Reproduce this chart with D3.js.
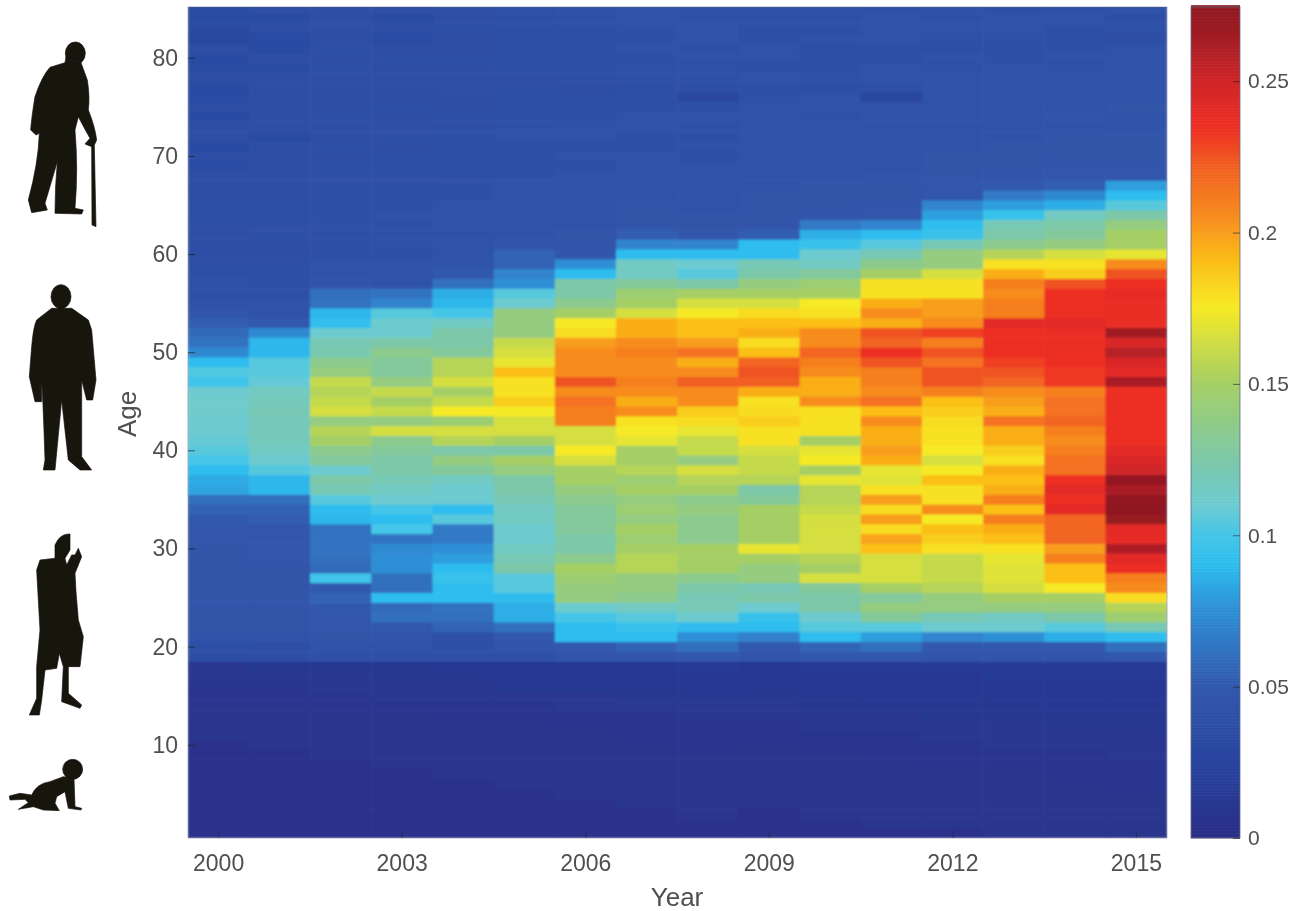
<!DOCTYPE html>
<html><head><meta charset="utf-8">
<script src="https://cdn.jsdelivr.net/npm/d3@7"></script>
<style>html,body{margin:0;padding:0;background:#fff}svg{display:block}text{font-family:"Liberation Sans",Arial,sans-serif;fill:#505050}</style>
</head><body><svg id="c" width="1295" height="911"></svg>
<script>
// Values in thousandths, ages 1..85, one array per year
const y2000=[5,5,5,5,5,5,6,6,6,6,7,7,8,8,9,9,10,10,
35,38,42,44,45,45,45,44,44,44,45,
44,46,47,50,54,60,82,84,90,100,
105,108,110,110,112,112,110,98,103,90,
72,62,58,52,46,42,40,40,39,38,
37,37,36,38,38,38,36,35,35,34,
36,34,35,35,33,36,34,33,35,34,
33,35,28,30,33,34];
const y2001=[5,5,5,5,5,6,6,6,6,7,7,7,8,8,9,9,10,11,
36,37,42,44,45,45,45,45,44,44,46,
46,47,46,52,54,60,88,88,104,110,
115,118,118,118,120,118,116,108,105,104,
88,88,72,50,43,41,40,39,39,38,
37,37,38,39,38,38,37,36,36,36,
35,36,34,36,35,36,35,35,36,33,
35,34,33,36,34,36];
const y2002=[5,5,5,5,6,6,6,6,7,7,7,8,8,9,9,10,10,11,
40,42,45,47,48,50,55,50,98,58,60,
62,62,62,88,90,105,120,125,110,130,
135,150,155,140,165,160,155,160,140,135,
122,120,110,92,88,62,60,45,42,41,
40,39,39,40,40,39,39,38,38,38,
37,38,37,36,38,36,37,36,37,38,
36,38,37,36,37,36];
const y2003=[5,5,5,6,6,6,6,7,7,7,7,8,8,9,10,10,11,11,
40,42,45,50,60,58,90,60,60,75,75,
72,62,100,90,100,110,115,120,125,125,
130,135,165,140,160,150,160,140,130,130,
135,125,110,110,105,70,62,42,41,41,
40,40,40,40,41,40,39,39,38,38,
38,37,38,39,37,38,36,37,36,37,
38,36,34,36,33,37];
const y2004=[5,5,6,6,6,6,7,7,7,7,8,8,9,9,10,10,11,12,
40,40,40,55,60,62,90,90,95,90,80,
75,65,65,105,90,110,110,115,130,140,
125,155,165,145,175,160,150,165,155,155,
130,125,125,115,100,88,85,60,50,42,
41,41,40,42,41,41,40,40,39,39,
39,38,40,38,39,37,36,38,35,37,
38,37,36,38,37,38];
const y2005=[6,6,6,6,6,7,7,7,7,8,8,8,9,9,10,11,12,12,
40,45,50,60,85,85,90,105,105,125,120,
115,110,110,115,115,120,125,125,140,150,
125,150,165,165,175,185,178,178,190,170,
165,160,140,140,140,110,105,75,70,55,
55,45,43,42,42,42,41,41,40,40,
40,39,41,40,40,39,38,39,36,38,
39,39,38,39,38,40];
const y2006=[6,6,6,6,7,7,7,7,8,8,8,9,9,10,10,11,12,13,
45,50,90,90,100,110,140,140,145,150,135,
125,125,130,130,130,135,140,150,150,165,
175,165,165,210,210,215,205,225,205,205,
205,200,180,175,150,135,125,125,90,75,
48,45,44,43,43,42,42,41,41,40,
41,40,41,40,39,40,38,37,38,39,
39,40,40,39,40,41];
const y2007=[6,6,6,7,7,7,7,8,8,8,9,9,9,10,11,11,12,13,
45,55,90,95,105,115,135,140,140,155,155,
150,145,150,140,145,140,150,145,155,150,
150,170,175,178,205,195,205,210,205,205,
210,205,195,195,165,150,145,130,115,115,
90,70,52,45,44,44,43,42,42,41,
41,40,40,41,41,39,39,38,40,40,
40,41,40,40,41,42];
const y2008=[6,6,7,7,7,7,8,8,8,9,9,9,10,10,11,12,13,14,
50,60,75,90,110,120,120,125,135,150,150,
150,135,135,135,140,135,150,155,165,140,
160,160,170,180,185,205,205,222,205,195,
215,200,190,190,175,165,150,125,105,110,
90,70,46,44,44,43,43,42,41,41,
40,41,39,40,41,40,28,38,40,40,
41,40,41,41,40,42];
const y2009=[6,6,6,7,7,7,8,8,8,8,9,9,10,10,11,11,12,13,
45,50,68,90,95,110,125,120,140,140,150,
170,150,150,150,150,130,125,155,160,160,
165,178,178,185,180,178,195,222,225,220,
190,180,195,190,180,165,150,140,125,120,
90,90,52,45,45,44,44,43,43,42,
42,41,42,41,42,41,40,40,41,39,
41,41,40,39,40,41];
const y2010=[6,6,7,7,7,8,8,8,8,9,9,10,10,11,11,12,13,14,
50,55,90,105,110,125,125,130,165,150,155,
165,165,165,165,160,155,155,170,150,175,
170,150,178,178,178,205,195,195,205,210,
220,205,205,190,178,175,150,145,130,115,
110,95,85,65,46,45,44,44,43,43,
42,42,41,42,40,41,41,39,40,38,
40,39,41,39,40,41];
const y2011=[6,7,7,7,7,8,8,8,9,9,9,10,10,11,12,12,13,14,
50,60,80,105,130,140,130,150,165,165,165,
190,198,180,200,180,200,178,168,170,195,
200,195,195,205,190,215,205,210,210,225,
235,220,225,195,205,195,178,178,150,135,
120,105,90,70,47,46,45,45,44,43,
43,43,42,42,43,41,28,40,41,42,
40,40,41,41,42,40];
const y2012=[6,7,7,7,8,8,8,9,9,9,10,10,11,11,12,13,13,14,
45,50,70,110,120,140,140,155,160,160,160,
178,185,190,175,205,178,178,190,175,165,
175,178,178,180,185,190,210,225,225,215,
225,210,230,205,200,200,178,178,165,140,
140,120,95,90,80,70,47,46,45,44,
44,43,42,42,43,42,41,41,42,40,
41,39,40,41,40,41];
const y2013=[7,7,7,7,8,8,8,9,9,10,10,10,11,11,12,13,14,14,
45,50,75,110,115,140,150,165,168,168,170,
178,190,195,210,190,210,195,190,195,178,
185,195,195,215,195,200,205,220,225,230,
235,235,235,240,210,210,205,210,195,178,
155,135,125,120,95,80,65,50,46,45,
44,44,43,42,42,43,42,41,42,41,
40,38,40,41,42,39];
const y2014=[7,7,7,8,8,8,9,9,9,10,10,11,11,12,12,13,14,15,
45,50,85,105,125,140,150,175,190,190,210,
200,220,220,220,240,235,240,235,215,215,
210,205,210,220,215,215,210,232,232,235,
236,236,237,240,236,235,235,225,185,178,
165,140,130,125,115,85,72,52,48,46,
45,44,44,43,44,43,42,43,42,40,
42,40,39,38,41,40];
const y2015=[7,7,8,8,8,9,9,9,10,10,10,11,11,12,13,13,14,15,
50,60,90,120,145,155,180,205,210,235,240,
260,238,240,270,274,272,262,272,250,245,
240,235,235,235,235,235,235,262,240,245,
258,245,265,237,237,237,238,235,225,205,
170,150,150,140,125,105,90,80,48,46,
45,44,45,43,41,44,42,43,41,42,
43,41,36,40,38,41];
const years=d3.range(2000,2016);
const series=[y2000,y2001,y2002,y2003,y2004,y2005,y2006,y2007,y2008,y2009,y2010,y2011,y2012,y2013,y2014,y2015];
const yearTicks=[2000,2003,2006,2009,2012,2015];
const ageTicks=[10,20,30,40,50,60,70,80];
const barTicks=[0,50,100,150,200,250];
const barTickLabels=["0","0.05","0.1","0.15","0.2","0.25"];
const colorStops=[0,20,50,75,90,100,110,125,150,165,175,190,205,220,235,250,265,275];
const colorValues=["#2a2d86","#27409b","#3259ad","#2f8fd6","#2dbdee","#45c6e8","#6dcbd0","#7cc8a8","#a5cf65","#d5df40","#f6ea25","#fbbf17","#f78c1e","#f26522","#ed2e24","#cf2529","#a01c24","#8e1820"];

const svg=d3.select("#c");
const L=188,R=1167,T=7,B=838;
const color=d3.scaleLinear().domain(colorStops).range(colorValues).clamp(true);
const x=d3.scaleBand().domain(years).range([L,R]);
const y=d3.scaleLinear().domain([0.5,85.18]).range([B,T]);
const defs=svg.append("defs");
defs.append("clipPath").attr("id","pc").append("rect").attr("x",L).attr("y",T).attr("width",R-L).attr("height",B-T);
const f=defs.append("filter").attr("id","bl").attr("x",-0.02).attr("y",-0.02).attr("width",1.04).attr("height",1.04);
f.append("feGaussianBlur").attr("stdDeviation","1.1 1");
const f2=defs.append("filter").attr("id","bi").attr("x",-0.1).attr("y",-0.1).attr("width",1.2).attr("height",1.2);
f2.append("feGaussianBlur").attr("stdDeviation","0.7");
const f3=defs.append("filter").attr("id","bt").attr("x",-0.1).attr("y",-0.1).attr("width",1.2).attr("height",1.2);
f3.append("feGaussianBlur").attr("stdDeviation","0.4");

const clip=svg.append("g").attr("clip-path","url(#pc)");
const cells=[];
years.forEach((yr,i)=>series[i].forEach((v,j)=>cells.push({yr,age:j+1,v})));
clip.append("g").attr("filter","url(#bl)").selectAll("rect").data(cells).join("rect")
 .attr("x",d=>x(d.yr)-0.3).attr("width",x.bandwidth()+0.6)
 .attr("y",d=>y(d.age+0.5)-0.3).attr("height",d=>y(d.age-0.5)-y(d.age+0.5)+0.6)
 .attr("fill",d=>color(d.v));
svg.append("rect").attr("x",L).attr("y",T).attr("width",R-L).attr("height",B-T).attr("fill","none").attr("stroke","#5a5f80").attr("stroke-width",0.8).attr("opacity",0.6);

const axL=svg.append("g").attr("transform",`translate(${L},0)`).attr("filter","url(#bt)").call(d3.axisLeft(y).tickValues(ageTicks).tickSize(-7).tickPadding(10).tickFormat(d3.format("d")));
axL.select(".domain").remove();
axL.selectAll("line").attr("stroke","#222").attr("opacity",0.7);
axL.selectAll("text").style("font-size","23px");
const axB=svg.append("g").attr("transform",`translate(0,${B})`).attr("filter","url(#bt)").call(d3.axisBottom(x).tickValues(yearTicks).tickSize(-7).tickPadding(17).tickFormat(d3.format("d")));
axB.select(".domain").remove();
axB.selectAll("line").attr("stroke","#222").attr("opacity",0.4);
axB.selectAll("text").style("font-size","23px");
svg.append("text").attr("x",677).attr("y",906).attr("text-anchor","middle").attr("filter","url(#bt)").style("font-size","26px").text("Year");
svg.append("text").attr("transform","translate(136,414) rotate(-90)").attr("text-anchor","middle").attr("filter","url(#bt)").style("font-size","26px").text("Age");

// colour bar
const cbL=1191,cbR=1240;
const cy=d3.scaleLinear().domain([0,274.5]).range([B,T]);
svg.append("g").selectAll("rect").data(d3.range(0,275,0.5)).join("rect")
 .attr("x",cbL).attr("width",cbR-cbL).attr("y",d=>cy(d+0.5)-0.3).attr("height",d=>cy(d)-cy(d+0.5)+0.6).attr("fill",d=>color(d));
svg.append("rect").attr("x",cbL).attr("y",T).attr("width",cbR-cbL).attr("height",B-T).attr("fill","none").attr("stroke","#666a80").attr("stroke-width",0.8);
const axC=svg.append("g").attr("transform",`translate(${cbR},0)`).attr("filter","url(#bt)").call(d3.axisRight(cy).tickValues(barTicks).tickSize(-7).tickPadding(8).tickFormat((d,i)=>barTickLabels[i]));
axC.select(".domain").remove();
axC.selectAll("line").attr("stroke","#222").attr("opacity",0.6);
axC.selectAll("text").style("font-size","21px");

// silhouettes (decorations)
const ic=svg.append("g").attr("fill","#17120f").attr("stroke","#17120f").attr("stroke-linejoin","round").attr("filter","url(#bi)");
const old=ic.append("g").attr("transform","translate(0,30) scale(0.3333)").attr("stroke-width",2);
old.append("ellipse").attr("cx",226).attr("cy",70).attr("rx",30).attr("ry",34);
old.append("path").attr("d","M198 80 L240 90 L262 150 Q270 200 265 240 Q285 290 290 330 L283 345 L288 590 L276 585 L275 350 L255 342 L270 325 Q245 280 235 260 L225 300 Q235 420 225 535 L250 540 L245 552 L165 550 Q165 470 172 395 L135 520 L142 540 L95 548 L85 510 Q115 400 118 310 L108 315 L92 300 Q95 260 105 200 Q125 140 150 112 L195 98 Z");
const mid=ic.append("g").attr("transform","translate(0,30) scale(0.3333)").attr("stroke-width",2);
mid.append("ellipse").attr("cx",183).attr("cy",800).attr("rx",30).attr("ry",36);
mid.append("path").attr("d","M155 835 L110 870 Q100 890 95 950 L88 1040 L105 1115 L125 1115 L125 1050 Q130 1130 135 1290 L130 1320 L165 1320 L185 1110 L205 1290 L240 1320 L275 1320 L245 1280 L245 1050 L260 1110 L278 1110 L288 1050 L275 900 L265 870 L215 835 Z");
const yng=ic.append("g").attr("transform","translate(0,520) scale(0.3333)").attr("stroke-width",2);
yng.append("path").attr("d","M165 75 Q180 40 210 42 L210 90 L195 115 L200 135 L215 105 L225 105 L235 85 L245 110 L225 160 L228 215 L235 300 L250 350 L240 440 L205 440 L205 520 L245 555 L240 565 L185 545 L190 440 L178 400 L170 445 L135 450 L125 540 L118 585 L88 585 L110 535 L110 440 L120 330 L110 150 L120 120 L165 115 Z");
const bby=ic.append("g").attr("transform","translate(0,520) scale(0.3333)").attr("stroke-width",2);
bby.append("circle").attr("cx",218).attr("cy",748).attr("r",30);
bby.append("path").attr("d","M28 828 L60 820 L95 825 Q110 790 150 785 L190 770 L222 775 L225 860 L245 865 L243 870 L205 865 L195 815 L170 830 L165 850 L178 872 L130 870 L100 860 L55 868 L85 848 L75 838 L30 840 Z");
</script></body></html>
